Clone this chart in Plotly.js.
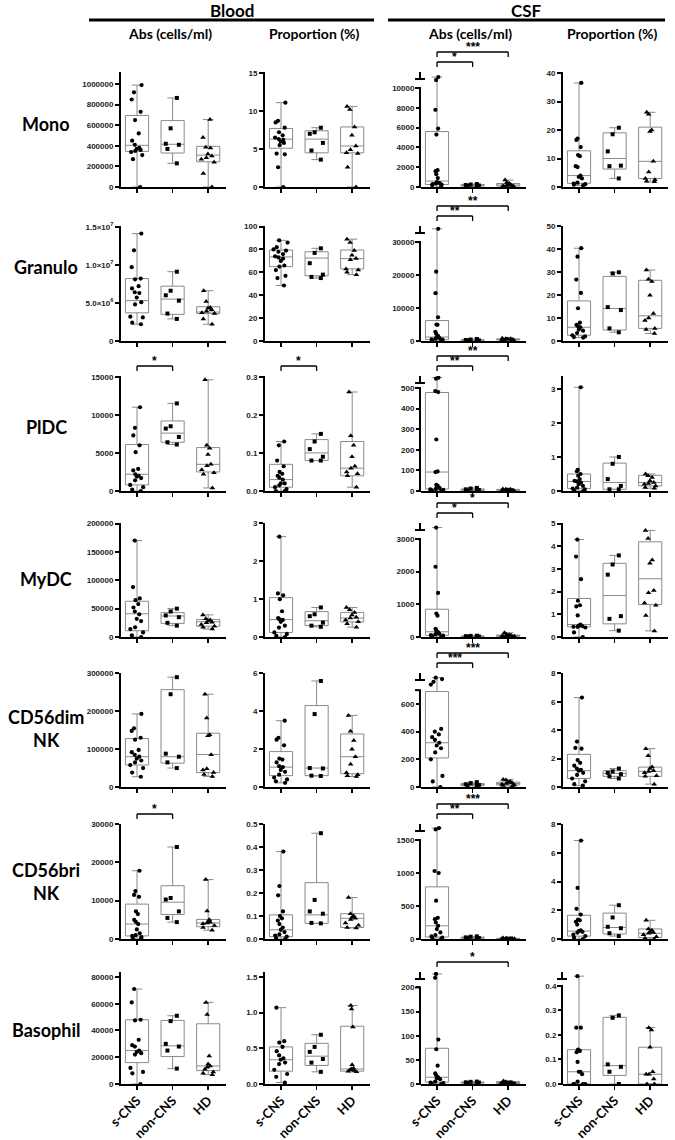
<!DOCTYPE html>
<html><head><meta charset="utf-8">
<script src="https://cdn.plot.ly/plotly-3.0.1.min.js"></script>
<style>html,body{margin:0;padding:0;background:#fff}#chart{width:675px;height:1140px}</style>
</head><body><div id="chart"></div>
<script>
// ---------- labels ----------
const groups = ["s-CNS", "non-CNS", "HD"];
const rowNames = ["Mono", "Granulo", "PlDC", "MyDC", "CD56dim<br>NK", "CD56bri<br>NK", "Basophil"];
const tissueHeaders = ["Blood", "CSF"];
const measureHeaders = ["Abs (cells/ml)", "Proportion (%)", "Abs (cells/ml)", "Proportion (%)"];

// ---------- data: box stats [min, q1, median, q3, max] per group; points per group ----------
// Mono
const m_bAbs_box = [[0,346000,405000,695000,990000],[230000,330000,415000,645000,865000],[0,245000,310000,395000,655000]];
const m_bAbs_pts = [[990000,920000,850000,730000,650000,520000,450000,410000,380000,370000,360000,350000,340000,310000,270000,0],[865000,570000,420000,410000,370000,230000],[655000,480000,385000,380000,320000,300000,285000,270000,240000,130000,0]];
const m_bPct_box = [[0,5.1,6.3,7.7,11.1],[3.6,4.5,6.3,7.4,7.8],[0,4.5,5.4,7.9,10.6]];
const m_bPct_pts = [[11.1,8.7,8.5,7.8,7.2,6.8,6.5,6.3,6.2,6.0,5.8,5.5,4.4,4.3,2.6,0],[7.8,7.2,7.0,5.8,4.8,3.6],[10.6,10.2,7.9,6.8,5.4,4.9,4.5,4.4,2.6,0]];
const m_cAbs_box = [[0,250,600,5600,11100],[50,100,180,250,300],[50,100,200,350,700]];
const m_cAbs_pts = [[11100,10800,7800,5900,5300,1700,1600,1300,900,500,400,350,300,250,200,100],[300,250,200,150,100,50],[700,450,350,300,200,150,100,80,60,50]];
const m_cPct_box = [[0.5,1.3,4.0,12.7,36.5],[3.0,6.3,10,19,20.8],[1.8,3.0,9.0,21,26.2]];
const m_cPct_pts = [[36.5,17,16.5,14,11.2,10.8,7.3,7.0,4.0,3.5,3.0,1.5,1.2,1.0,0.8,0.6],[20.8,18.5,12.5,7.5,7.3,3.0],[26.2,25.5,20,19.5,9.0,5.3,3.0,2.5,2.0,1.8]];
// Granulo
const g_bAbs_box = [[2.2e6,3.7e6,5.3e6,8.2e6,14.1e6],[2.9e6,3.5e6,5.5e6,7.2e6,9.1e6],[2.2e6,3.6e6,3.8e6,4.5e6,6.6e6]];
const g_bAbs_pts = [[14.1e6,11.9e6,9.7e6,8.2e6,8.1e6,7.2e6,6.9e6,6.4e6,6.3e6,5.7e6,5.1e6,4.8e6,3.2e6,3.1e6,2.4e6,2.2e6],[9.1e6,6.6e6,6.0e6,5.3e6,3.6e6,2.9e6],[6.6e6,5.2e6,4.4e6,4.3e6,4.1e6,3.9e6,3.7e6,3.6e6,2.9e6,2.2e6]];
const g_bPct_box = [[48.5,65,73.5,79.5,88],[55,57,72.5,78,81],[58,63,72,79.5,89]];
const g_bPct_pts = [[88,86,82,80,79,78,76,74,73,72,70,66,65,62,57,55,48.5],[81,77,68,58,56,55],[89,86,79,75,72,71,63,62,60,58]];
const g_cAbs_box = [[0,400,1200,6200,34000],[50,150,250,400,600],[100,300,500,650,800]];
const g_cAbs_pts = [[34000,21000,14500,7200,5000,4900,2800,2200,1500,1200,900,700,500,400,200,100],[600,450,300,200,150,50],[800,700,650,600,550,500,400,300,200,100]];
const g_cPct_box = [[1.5,2.5,6,17.5,40.5],[3.8,4.8,14.2,28.2,30],[3.3,5.5,11,26.5,31]];
const g_cPct_pts = [[40.5,36.8,26.8,21,14.3,8,7,6.5,6,5,4.5,3.5,2.5,2,1.7,1.5],[30,29.5,14.8,13.5,5.5,3.8],[31,27,26,20,12,10,9,5.5,5,3.3]];
// PlDC
const p_bAbs_box = [[0,800,2200,6100,11000],[6100,6400,7600,9200,11500],[400,2500,3500,5700,14600]];
const p_bAbs_pts = [[11000,8300,7300,6000,5100,2900,2700,2200,2000,1900,1700,1400,800,500,200,0],[11500,8500,8200,7100,6400,6100],[14600,6000,5600,4800,3500,3300,2800,2400,2200,400]];
const p_bPct_box = [[0,0.01,0.03,0.07,0.13],[0.08,0.08,0.1,0.135,0.15],[0.01,0.04,0.06,0.13,0.26]];
const p_bPct_pts = [[0.13,0.12,0.08,0.065,0.05,0.045,0.04,0.035,0.03,0.02,0.02,0.015,0.01,0.005,0,0],[0.15,0.13,0.11,0.09,0.08,0.08],[0.26,0.145,0.12,0.09,0.065,0.06,0.05,0.045,0.04,0.01]];
const p_cAbs_box = [[0,10,92,478,550],[0,2,5,10,15],[1,3,5,8,10]];
const p_cAbs_pts = [[550,545,485,480,250,95,92,30,25,20,15,10,8,5,3,0],[15,12,8,5,2,0],[10,9,8,6,5,5,4,3,2,1]];
const p_cPct_box = [[0,0.07,0.28,0.5,3.05],[0.05,0.05,0.25,0.82,1.0],[0.08,0.15,0.25,0.46,0.5]];
const p_cPct_pts = [[3.05,0.62,0.58,0.5,0.45,0.35,0.3,0.28,0.25,0.2,0.15,0.1,0.07,0.05,0.02,0],[1.0,0.8,0.35,0.15,0.05,0.05],[0.5,0.45,0.4,0.3,0.25,0.22,0.2,0.15,0.1,0.08]];
// MyDC
const y_bAbs_box = [[0,11000,41000,63000,170000],[20000,24000,37000,43000,50000],[14000,19000,27000,31000,39000]];
const y_bAbs_pts = [[170000,88000,68000,65000,58000,52000,45000,40000,32000,28000,17000,14000,8000,3000,0],[50000,45000,38000,35000,25000,20000],[39000,32000,30000,28000,26000,25000,22000,19000,17000,14000]];
const y_bPct_box = [[0,0.12,0.46,1.04,2.65],[0.27,0.3,0.43,0.67,0.78],[0.26,0.4,0.5,0.65,0.78]];
const y_bPct_pts = [[2.65,1.15,1.1,1.0,0.68,0.5,0.47,0.45,0.4,0.3,0.25,0.12,0.08,0.03,0],[0.78,0.6,0.55,0.38,0.3,0.27],[0.78,0.72,0.65,0.58,0.52,0.5,0.45,0.4,0.35,0.26]];
const y_cAbs_box = [[0,50,160,850,3350],[5,10,20,30,40],[10,20,40,60,130]];
const y_cAbs_pts = [[3350,2150,1350,720,650,250,200,150,120,100,80,60,40,20,0],[40,35,25,15,10,5],[130,80,60,55,45,40,30,20,15,10]];
const y_cPct_box = [[0,0.45,0.55,1.7,4.3],[0.28,0.58,1.83,3.25,3.6],[0.27,1.43,2.57,4.2,4.7]];
const y_cPct_pts = [[4.3,3.55,2.55,1.6,1.4,1.35,0.95,0.55,0.5,0.48,0.45,0.45,0.42,0.2,0],[3.6,3.2,2.75,0.92,0.8,0.28],[4.7,4.35,3.4,3.25,2.05,1.95,1.5,1.4,0.95,0.27]];
// CD56dim NK
const d_bAbs_box = [[27000,58000,80000,128000,193000],[50000,63000,80000,257000,290000],[28000,38000,86000,142000,245000]];
const d_bAbs_pts = [[193000,155000,148000,130000,125000,98000,92000,85000,80000,75000,70000,65000,58000,50000,38000,27000],[290000,245000,88000,80000,65000,50000],[245000,182000,138000,135000,85000,48000,45000,38000,33000,28000]];
const d_bPct_box = [[0.22,0.6,1.05,1.87,3.5],[0.58,0.6,1.0,4.3,5.6],[0.55,0.7,1.6,2.8,3.78]];
const d_bPct_pts = [[3.5,2.6,2.5,2.2,1.5,1.45,1.3,1.1,1.05,0.9,0.8,0.65,0.5,0.4,0.3,0.22],[5.6,3.85,1.0,0.98,0.6,0.58],[3.78,2.95,2.45,2.0,1.6,1.2,0.75,0.65,0.6,0.55]];
const d_cAbs_box = [[0,210,320,690,790],[8,10,18,25,35],[8,15,25,35,55]];
const d_cAbs_pts = [[790,780,760,740,420,400,380,360,340,320,300,280,250,200,80,40,0],[35,28,20,15,10,8],[55,50,40,35,30,25,20,15,10,8]];
const d_cPct_box = [[0.1,0.6,1.15,2.3,6.3],[0.6,0.75,0.95,1.15,1.3],[0.2,0.75,1.1,1.4,2.7]];
const d_cPct_pts = [[6.3,3.2,2.75,2.7,1.9,1.7,1.5,1.3,1.2,1.15,1.0,0.85,0.6,0.4,0.2,0.1],[1.3,1.1,1.0,0.9,0.75,0.6],[2.7,2.2,1.4,1.3,1.15,1.1,1.0,0.8,0.75,0.2]];
// CD56bri NK
const b_bAbs_box = [[200,800,3900,9100,17800],[4400,6400,9600,13900,24000],[2300,3200,4200,5100,15500]];
const b_bAbs_pts = [[17800,12500,11500,11000,7200,6500,5000,4500,3900,2500,1500,1000,800,500,300,200],[24000,10700,10300,7200,5500,4400],[15500,7300,5000,4500,4400,4200,4000,3500,3000,2300]];
const b_bPct_box = [[0,0.01,0.04,0.105,0.38],[0.068,0.068,0.105,0.245,0.46],[0.048,0.05,0.09,0.11,0.18]];
const b_bPct_pts = [[0.38,0.23,0.19,0.12,0.1,0.09,0.08,0.065,0.05,0.04,0.03,0.02,0.015,0.01,0.005,0],[0.46,0.17,0.12,0.11,0.07,0.068],[0.18,0.11,0.1,0.095,0.09,0.085,0.07,0.06,0.05,0.048]];
const b_cAbs_box = [[0,30,200,790,1680],[5,10,20,30,40],[2,4,8,10,15]];
const b_cAbs_pts = [[1680,1660,1030,1000,580,320,300,250,200,150,100,60,40,20,10,0],[40,35,25,15,10,5],[15,12,10,9,8,7,5,4,3,2]];
const b_cPct_box = [[0,0.2,0.55,1.65,6.85],[0.2,0.35,0.8,1.8,2.35],[0,0.1,0.4,0.7,1.3]];
const b_cPct_pts = [[6.85,3.55,2.1,1.7,1.35,1.3,1.2,1.0,0.6,0.55,0.5,0.45,0.3,0.2,0.1,0],[2.35,1.5,0.85,0.75,0.4,0.2],[1.3,0.7,0.6,0.5,0.45,0.4,0.3,0.15,0.05,0]];
// Basophil
const s_bAbs_box = [[0,16000,25000,48000,71000],[11500,20500,28500,47500,51000],[7000,10000,13500,45000,61000]];
const s_bAbs_pts = [[71000,61000,48000,47500,33000,29000,28000,25000,24000,23000,22000,12000,9000,8000,0],[51000,47000,30000,28000,25000,11500],[61000,52000,21000,15000,13500,12500,11000,9000,8000,7000]];
const s_bPct_box = [[0.02,0.18,0.34,0.52,1.07],[0.17,0.26,0.39,0.57,0.69],[0.17,0.18,0.21,0.81,1.1]];
const s_bPct_pts = [[1.07,0.6,0.58,0.52,0.46,0.4,0.36,0.34,0.3,0.28,0.2,0.14,0.1,0.02],[0.69,0.52,0.45,0.35,0.3,0.17],[1.1,1.05,0.8,0.27,0.22,0.21,0.2,0.19,0.18,0.17]];
const s_cAbs_box = [[0,4,14,74,228],[1,2,3,4,5],[0,1,3,5,6]];
const s_cAbs_pts = [[228,220,92,72,38,22,18,14,12,10,5,3,2,1,0],[5,4.5,3.5,3,2,1],[6,4,3.5,3,3,2,2,1,0.5,0]];
const s_cPct_box = [[0,0,0.05,0.14,0.44],[0,0.035,0.075,0.272,0.28],[0,0,0.04,0.15,0.23]];
const s_cPct_pts = [[0.44,0.23,0.23,0.14,0.135,0.13,0.09,0.05,0.05,0.04,0.01,0,0,0,0],[0.28,0.27,0.08,0.07,0.05,0],[0.23,0.22,0.15,0.05,0.04,0.04,0.02,0,0]];

// significance brackets: [row, col, groupA, groupB, level(0 low,1 high), label]
const sigBrackets = [
  [0,2,0,1,0,"*"],[0,2,0,2,1,"***"],
  [1,2,0,1,0,"**"],[1,2,0,2,1,"**"],
  [2,0,0,1,0,"*"],[2,1,0,1,0,"*"],[2,2,0,1,0,"**"],[2,2,0,2,1,"**"],
  [3,2,0,1,0,"*"],[3,2,0,2,1,"*"],
  [4,2,0,1,0,"***"],[4,2,0,2,1,"***"],
  [5,0,0,1,0,"*"],[5,2,0,1,0,"**"],[5,2,0,2,1,"***"],
  [6,2,0,2,0,"*"]
];

// ---------- assemble ----------
const boxStats = [
  [m_bAbs_box,m_bPct_box,m_cAbs_box,m_cPct_box],
  [g_bAbs_box,g_bPct_box,g_cAbs_box,g_cPct_box],
  [p_bAbs_box,p_bPct_box,p_cAbs_box,p_cPct_box],
  [y_bAbs_box,y_bPct_box,y_cAbs_box,y_cPct_box],
  [d_bAbs_box,d_bPct_box,d_cAbs_box,d_cPct_box],
  [b_bAbs_box,b_bPct_box,b_cAbs_box,b_cPct_box],
  [s_bAbs_box,s_bPct_box,s_cAbs_box,s_cPct_box]];
const pointSets = [
  [m_bAbs_pts,m_bPct_pts,m_cAbs_pts,m_cPct_pts],
  [g_bAbs_pts,g_bPct_pts,g_cAbs_pts,g_cPct_pts],
  [p_bAbs_pts,p_bPct_pts,p_cAbs_pts,p_cPct_pts],
  [y_bAbs_pts,y_bPct_pts,y_cAbs_pts,y_cPct_pts],
  [d_bAbs_pts,d_bPct_pts,d_cAbs_pts,d_cPct_pts],
  [b_bAbs_pts,b_bPct_pts,b_cAbs_pts,b_cPct_pts],
  [s_bAbs_pts,s_bPct_pts,s_cAbs_pts,s_cPct_pts]];

// axis layout settings
const yTop = [[1.117e6,15.13,11616,40.35],[1.51e7,100.5,34850,50.2],[15100,0.302,558,3.38],[201000,3.01,3490,5.03],[301000,6.02,824,8.03],[30000,0.5,1742,8],[83700,1.57,232,0.457]];
const tickStep = [[200000,5,2000,10],[5e6,20,10000,10],[5000,0.1,100,1],[50000,1,1000,1],[100000,2,200,2],[10000,0.1,500,2],[20000,0.5,50,0.1]];
const tickEnd = [[1e6,15,10000,40],[1.5e7,100,30000,50],[15000,0.3,500,3],[200000,3,3000,5],[300000,6,600,8],[30000,0.5,1500,8],[80000,1.5,200,0.4]];
const tickDec = [[0,0,0,0],[0,0,0,0],[0,1,0,0],[0,0,0,0],[0,0,0,0],[0,1,0,0],[0,1,0,1]];
const breakVal = [[null,null,10000,null],[null,null,30000,null],[null,null,500,null],[null,null,3000,null],[null,null,700,null],[null,null,1500,null],[null,null,200,0.4]];

const W = 675, H = 1140;
const colPx = [[121,226],[265,370],[421,526],[563,668]];
const rowPx = [[72,187],[226,341],[376,491],[523,637],[673,787],[824,939],[972,1084]];
const rowLabelY = [124,267,427,579,728,881,1030];
const px = v => v / W, py = v => 1 - v / H;
const symbols = ['circle','square','triangle-up'];
const msize = [4.2,4,5];

const traces = [], shapes = [], annotations = [];
const layout = {
  width: W, height: H, margin: {l:0,r:0,t:0,b:0}, showlegend: false,
  paper_bgcolor: '#fff', plot_bgcolor: '#fff', hovermode: false, boxmode: 'overlay',
  font: {family: 'Liberation Sans, Arial, sans-serif', color: '#000'}
};
const axName = k => (k === 1 ? '' : String(k));
const lineSty = (w) => ({color: '#000', width: w});

for (let r = 0; r < 7; r++) {
  for (let c = 0; c < 4; c++) {
    const k = r * 4 + c + 1, s = axName(k);
    const xn = 'x' + s, yn = 'y' + s;
    const st = boxStats[r][c];
    traces.push({
      type: 'box', xaxis: xn, yaxis: yn, x: [0,1,2],
      lowerfence: st.map(v => v[0]), q1: st.map(v => v[1]), median: st.map(v => v[2]),
      q3: st.map(v => v[3]), upperfence: st.map(v => v[4]),
      boxpoints: false, width: 0.65, whiskerwidth: 0.45,
      fillcolor: '#fff', line: {color: '#8a8a8a', width: 1}, hoverinfo: 'skip'
    });
    pointSets[r][c].forEach((arr, g) => {
      traces.push({
        type: 'box', xaxis: xn, yaxis: yn, x0: g, y: arr,
        boxpoints: 'all', jitter: 0.7, pointpos: 0, width: 0.65, whiskerwidth: 0,
        fillcolor: 'rgba(0,0,0,0)', line: {color: 'rgba(0,0,0,0)', width: 0},
        marker: {symbol: symbols[g], size: msize[g], color: '#000', line: {width: 0}},
        hoverinfo: 'skip'
      });
    });
    const isBreak = breakVal[r][c] !== null;
    const tv = [], tt = [];
    const n = Math.round(tickEnd[r][c] / tickStep[r][c]);
    for (let i = 0; i <= n; i++) {
      const v = +(i * tickStep[r][c]).toFixed(6);
      tv.push(v);
      tt.push(tickDec[r][c] ? v.toFixed(tickDec[r][c]) : String(v));
    }
    if (r === 1 && c === 0) {
      tt.splice(0, tt.length, '0', '5.0×10<sup>6</sup>', '1.0×10<sup>7</sup>', '1.5×10<sup>7</sup>');
    }
    layout['xaxis' + s] = {
      domain: [px(colPx[c][0]), px(colPx[c][1])], anchor: yn, range: [-0.45, 2.5],
      showline: true, linewidth: 2, linecolor: '#000', mirror: false,
      ticks: 'outside', ticklen: 4, tickwidth: 1.5, tickcolor: '#000',
      tickmode: 'array', tickvals: [0,1,2], ticktext: groups, showticklabels: r === 6,
      tickangle: -45, ticklabelstandoff: -2,
      tickfont: {family: 'Lato, Open Sans, sans-serif', size: 13, color: '#000', weight: 'bold'},
      showgrid: false, zeroline: false, fixedrange: true
    };
    layout['yaxis' + s] = {
      domain: [py(rowPx[r][1]), py(rowPx[r][0])], anchor: xn, range: [0, yTop[r][c]],
      showline: !isBreak, linewidth: 2, linecolor: '#000',
      ticks: 'outside', ticklen: 4, tickwidth: 2, tickcolor: '#000',
      tickmode: 'array', tickvals: tv, ticktext: tt,
      tickfont: {family: 'Liberation Sans, Arial, sans-serif', size: 8, color: '#222', weight: 'bold'},
      showgrid: false, zeroline: false, fixedrange: true
    };
    if (isBreak) {
      const top = rowPx[r][0], bot = rowPx[r][1];
      const bp = bot - breakVal[r][c] * (bot - top) / yTop[r][c];
      const ax = colPx[c][0] - 1;
      shapes.push({type:'line', xref:'paper', yref:'paper', x0:px(ax), x1:px(ax), y0:py(bot+1), y1:py(bp), line:lineSty(2)});
      shapes.push({type:'line', xref:'paper', yref:'paper', x0:px(ax-5), x1:px(ax+1), y0:py(bp), y1:py(bp), line:lineSty(2)});
      shapes.push({type:'line', xref:'paper', yref:'paper', x0:px(ax), x1:px(ax), y0:py(top), y1:py(top+7), line:lineSty(2)});
      shapes.push({type:'line', xref:'paper', yref:'paper', x0:px(ax-5), x1:px(ax+5), y0:py(top+7), y1:py(top+7), line:lineSty(2)});
    }
  }
}

// significance brackets
sigBrackets.forEach(([r, c, a, b, lvl, lab]) => {
  const s = axName(r * 4 + c + 1), xn = 'x' + s;
  const ly = rowPx[r][0] - (lvl ? 20 : 10);
  shapes.push({type:'line', xref:xn, yref:'paper', x0:a, x1:b, y0:py(ly), y1:py(ly), line:lineSty(1.3)});
  shapes.push({type:'line', xref:xn, yref:'paper', x0:a, x1:a, y0:py(ly), y1:py(ly+5), line:lineSty(1.3)});
  shapes.push({type:'line', xref:xn, yref:'paper', x0:b, x1:b, y0:py(ly), y1:py(ly+5), line:lineSty(1.3)});
  annotations.push({xref:xn, yref:'paper', x:(a+b)/2, y:py(ly), yanchor:'bottom', xanchor:'center', showarrow:false,
    text: lab, font:{family:'Liberation Sans, Arial, sans-serif', size:12, color:'#000', weight:'bold'}, yshift:-4});
});

// headers
const headFont = (sz) => ({family: 'Lato, Open Sans, sans-serif', size: sz, color: '#000', weight: 'bold'});
[[89,374],[388,665]].forEach(([x0, x1], i) => {
  shapes.push({type:'line', xref:'paper', yref:'paper', x0:px(x0), x1:px(x1), y0:py(20), y1:py(20), line:lineSty(3)});
  annotations.push({xref:'paper', yref:'paper', x:px((x0+x1)/2), y:py(10), xanchor:'center', yanchor:'middle', showarrow:false, text:tissueHeaders[i], font:headFont(17)});
});
measureHeaders.forEach((t, c) => {
  annotations.push({xref:'paper', yref:'paper', x:px((colPx[c][0]+colPx[c][1])/2 - 4), y:py(34), xanchor:'center', yanchor:'middle', showarrow:false, text:t, font:headFont(14)});
});
rowNames.forEach((t, r) => {
  annotations.push({xref:'paper', yref:'paper', x:px(46), y:py(rowLabelY[r]), xanchor:'center', yanchor:'middle', showarrow:false, text:t, align:'center', font:headFont(18)});
});

layout.shapes = shapes;
layout.annotations = annotations;
Plotly.newPlot('chart', traces, layout, {staticPlot: true, displayModeBar: false});
</script>
</body></html>
